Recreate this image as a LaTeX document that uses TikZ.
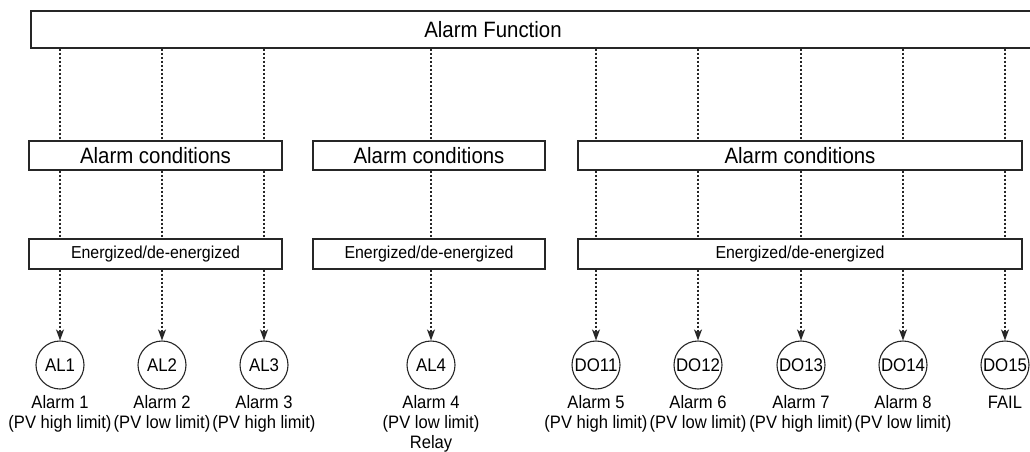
\documentclass[tikz,border=0pt]{standalone}
\usepackage{fontspec}
\setmainfont{Liberation Sans}[FakeStretch=0.92]
\usepackage{tikz}
\usetikzlibrary{arrows.meta,positioning}

\begin{document}
\begin{tikzpicture}[x=1pt, y=-1pt, >={Stealth[length=11pt,width=8pt,inset=3pt]},
  box/.style={draw=black!85, line width=1.1pt, rectangle, inner sep=0pt},
  alarm/.style={draw=black!85, line width=1.1pt, circle, minimum size=48pt, inner sep=0pt,
    font=\fontsize{18.3}{20}\selectfont},
  lbl/.style={align=center, inner sep=0pt, font=\fontsize{18}{20}\selectfont},
  link/.style={draw=black!85, line width=1.2pt, dash pattern=on 2pt off 2pt}]

  \useasboundingbox (0,0) rectangle (1030,452);

  % Define coordinates for nodes
  \node[box, minimum width=1009pt, minimum height=37pt] (func) at (535.5, 29.5) {};
  \node[inner sep=0pt, font=\fontsize{22.2}{24}\selectfont] (functxt) at (493, 29.5) {Alarm Function};

  \node[box, minimum width=253pt, minimum height=29pt, font=\fontsize{22.2}{24}\selectfont] (cond1) at (155.5, 155.5) {Alarm conditions};
  \node[box, minimum width=232pt, minimum height=29pt, font=\fontsize{22.2}{24}\selectfont] (cond2) at (429, 155.5) {Alarm conditions};
  \node[box, minimum width=444pt, minimum height=29pt, font=\fontsize{22.2}{24}\selectfont] (cond3) at (800, 155.5) {Alarm conditions};

  \node[box, minimum width=253pt, minimum height=30pt, font=\fontsize{17.3}{19}\selectfont] (ener1) at (155.5, 254) {Energized/de-energized};
  \node[box, minimum width=232pt, minimum height=30pt, font=\fontsize{17.3}{19}\selectfont] (ener2) at (429, 254) {Energized/de-energized};
  \node[box, minimum width=444pt, minimum height=30pt, font=\fontsize{17.3}{19}\selectfont] (ener3) at (800, 254) {Energized/de-energized};

  \node[alarm] (al1) at (60, 365) {AL1};
  \node[alarm] (al2) at (162, 365) {AL2};
  \node[alarm] (al3) at (264, 365) {AL3};
  \node[alarm] (al4) at (431, 365) {AL4};
  \node[alarm] (do11) at (596, 365) {DO11};
  \node[alarm] (do12) at (698, 365) {DO12};
  \node[alarm] (do13) at (801, 365) {DO13};
  \node[alarm] (do14) at (903, 365) {DO14};
  \node[alarm] (do15) at (1005, 365) {DO15};

  \node[lbl, below=6pt of al1] (al1txt) {Alarm 1\\(PV high limit)};
  \node[lbl, below=6pt of al2] (al2txt) {Alarm 2\\(PV low limit)};
  \node[lbl, below=6pt of al3] (al3txt) {Alarm 3\\(PV high limit)};
  \node[lbl, below=6pt of al4] (al4txt) {Alarm 4\\(PV low limit)\\Relay};
  \node[lbl, below=6pt of do11] (do11txt) {Alarm 5\\(PV high limit)};
  \node[lbl, below=6pt of do12] (do12txt) {Alarm 6\\(PV low limit)};
  \node[lbl, below=6pt of do13] (do13txt) {Alarm 7\\(PV high limit)};
  \node[lbl, below=6pt of do14] (do14txt) {Alarm 8\\(PV low limit)};
  \node[lbl, below=6pt of do15] (do15txt) {FAIL};

  % Draw arrows between nodes
  \draw[link] (func.south -| al1) -- (cond1.north -| al1);
  \draw[link] (func.south -| al2) -- (cond1.north -| al2);
  \draw[link] (func.south -| al3) -- (cond1.north -| al3);
  \draw[link] (func.south -| al4) -- (cond2.north -| al4);
  \draw[link] (func.south -| do11) -- (cond3.north -| do11);
  \draw[link] (func.south -| do12) -- (cond3.north -| do12);
  \draw[link] (func.south -| do13) -- (cond3.north -| do13);
  \draw[link] (func.south -| do14) -- (cond3.north -| do14);
  \draw[link] (func.south -| do15) -- (cond3.north -| do15);

  \draw[link] (cond1.south -| al1) -- (ener1.north -| al1);
  \draw[link] (cond1.south -| al2) -- (ener1.north -| al2);
  \draw[link] (cond1.south -| al3) -- (ener1.north -| al3);
  \draw[link] (cond2.south -| al4) -- (ener2.north -| al4);
  \draw[link] (cond3.south -| do11) -- (ener3.north -| do11);
  \draw[link] (cond3.south -| do12) -- (ener3.north -| do12);
  \draw[link] (cond3.south -| do13) -- (ener3.north -| do13);
  \draw[link] (cond3.south -| do14) -- (ener3.north -| do14);
  \draw[link] (cond3.south -| do15) -- (ener3.north -| do15);

  \draw[link, ->] (ener1.south -| al1) -- (al1.north);
  \draw[link, ->] (ener1.south -| al2) -- (al2.north);
  \draw[link, ->] (ener1.south -| al3) -- (al3.north);
  \draw[link, ->] (ener2.south -| al4) -- (al4.north);
  \draw[link, ->] (ener3.south -| do11) -- (do11.north);
  \draw[link, ->] (ener3.south -| do12) -- (do12.north);
  \draw[link, ->] (ener3.south -| do13) -- (do13.north);
  \draw[link, ->] (ener3.south -| do14) -- (do14.north);
  \draw[link, ->] (ener3.south -| do15) -- (do15.north);
\end{tikzpicture}
\end{document}
